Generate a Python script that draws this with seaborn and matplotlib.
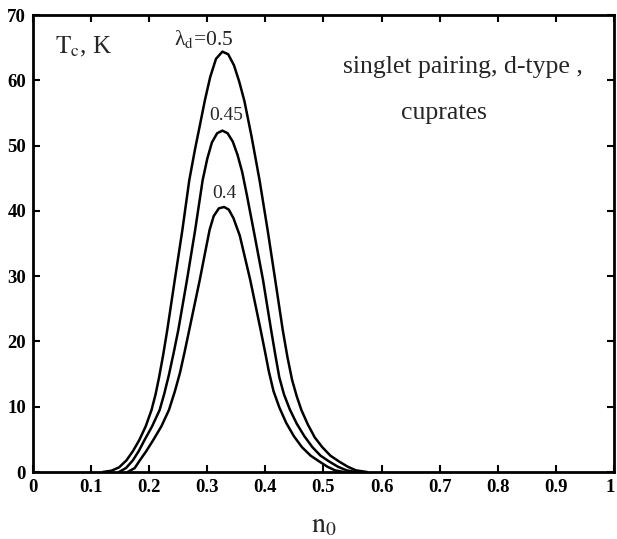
import numpy as np
import matplotlib
matplotlib.use("Agg")
import matplotlib.pyplot as plt
import matplotlib.transforms as mtransforms
import pandas as pd
import seaborn as sns

# values (n0, Tc in K)
n_05 = [0.120, 0.135, 0.148, 0.161, 0.172, 0.183, 0.194, 0.204, 0.211, 0.217, 0.224, 0.231,
        0.244, 0.257, 0.269, 0.279, 0.287, 0.296, 0.305, 0.315, 0.326, 0.336, 0.346, 0.355,
        0.364, 0.376, 0.390, 0.404, 0.417, 0.430, 0.438, 0.446, 0.454, 0.462, 0.473, 0.485,
        0.498, 0.512, 0.527, 0.542, 0.556, 0.575]
tc_05 = [0.0, 0.2, 0.7, 1.8, 3.2, 4.9, 7.0, 9.5, 11.9, 14.5, 17.9, 21.7,
         29.4, 37.0, 44.7, 49.5, 53.0, 57.0, 60.5, 63.3, 64.4, 64.0, 62.3, 59.8,
         56.8, 51.5, 44.7, 37.0, 29.4, 21.7, 17.6, 14.1, 11.6, 9.5, 7.3, 5.3,
         3.8, 2.5, 1.6, 0.8, 0.25, 0.0]

n_045 = [0.148, 0.160, 0.172, 0.182, 0.192, 0.205, 0.218, 0.226, 0.234, 0.242, 0.250, 0.265,
         0.279, 0.292, 0.300, 0.308, 0.317, 0.326, 0.335, 0.344, 0.352, 0.360, 0.368, 0.382,
         0.396, 0.410, 0.417, 0.424, 0.432, 0.442, 0.454, 0.467, 0.481, 0.495, 0.510, 0.525,
         0.540, 0.555]
tc_045 = [0.0, 0.6, 1.8, 3.2, 4.9, 7.0, 9.5, 12.0, 14.9, 18.2, 21.7, 29.4,
          37.0, 44.7, 48.0, 50.5, 51.9, 52.3, 51.9, 50.6, 48.6, 46.0, 42.5, 36.0,
          29.4, 21.7, 18.0, 14.5, 11.9, 9.6, 7.4, 5.5, 3.8, 2.5, 1.6, 0.8,
          0.25, 0.0]

n_04 = [0.163, 0.175, 0.184, 0.195, 0.207, 0.221, 0.234, 0.244, 0.253, 0.261, 0.270, 0.287,
        0.296, 0.304, 0.311, 0.320, 0.329, 0.337, 0.345, 0.356, 0.365, 0.374, 0.392, 0.399,
        0.406, 0.414, 0.424, 0.436, 0.449, 0.463, 0.478, 0.493, 0.507, 0.520, 0.535]
tc_04 = [0.0, 0.6, 1.8, 3.2, 4.9, 7.0, 9.5, 12.3, 15.2, 18.4, 22.2, 29.4,
         33.5, 37.1, 39.2, 40.4, 40.6, 40.2, 38.9, 36.2, 32.8, 29.4, 21.7, 18.6,
         15.4, 12.4, 9.9, 7.5, 5.5, 3.8, 2.5, 1.6, 0.8, 0.25, 0.0]

x_ticks = [0, 0.1, 0.2, 0.3, 0.4, 0.5, 0.6, 0.7, 0.8, 0.9, 1]
x_labels = ['0', '0.1', '0.2', '0.3', '0.4', '0.5', '0.6', '0.7', '0.8', '0.9', '1']
y_ticks = [0, 10, 20, 30, 40, 50, 60, 70]

sns.set_style('ticks')
plt.rcParams['font.family'] = ['Liberation Serif', 'DejaVu Serif']
plt.rcParams['mathtext.fontset'] = 'stix'

fig = plt.figure(figsize=(6.17, 5.39), dpi=100)
ax = fig.add_axes([0.0535, 0.1243, 0.9415, 0.8477])

for n, tc in [(n_05, tc_05), (n_045, tc_045), (n_04, tc_04)]:
    d = pd.DataFrame({'n0': n, 'Tc': tc})
    sns.lineplot(data=d, x='n0', y='Tc', ax=ax, color='black', lw=1.8, sort=False)

ax.set_xlim(0, 1)
ax.set_ylim(0, 70)
ax.set_xticks(x_ticks)
ax.set_xticklabels(x_labels)
ax.set_yticks(y_ticks)
ax.tick_params(direction='in', length=5, width=1.5, top=True, right=True,
               labelsize=13.5, pad=5, colors='black')
for lab in ax.get_xticklabels() + ax.get_yticklabels():
    lab.set_fontweight('heavy')
# keep the last x label inside the picture
last = ax.get_xticklabels()[-1]
last.set_transform(last.get_transform() +
                   mtransforms.ScaledTranslation(-3 / 72, 0, fig.dpi_scale_trans))
for s in ax.spines.values():
    s.set_linewidth(2)
    s.set_color('black')

ax.set_xlabel(r'$\mathrm{n_0}$', fontsize=20, labelpad=12)
ax.set_ylabel('')

# annotations
ax.text(0.038, 65.1, r'$\mathrm{T_c}$, K', fontsize=18, va='center')
ax.text(0.243, 66.4, r'λ$_\mathrm{d}$=0.5', fontsize=15.5, va='center')
ax.text(0.333, 54.6, '0.45', fontsize=14, ha='center', va='center')
ax.text(0.330, 42.6, '0.4', fontsize=14, ha='center', va='center')
ax.text(0.533, 62.0, 'singlet pairing, d-type ,', fontsize=18.5, va='center')
ax.text(0.633, 55.0, 'cuprates', fontsize=18.5, va='center')

fig.savefig('out.png', dpi=100)
